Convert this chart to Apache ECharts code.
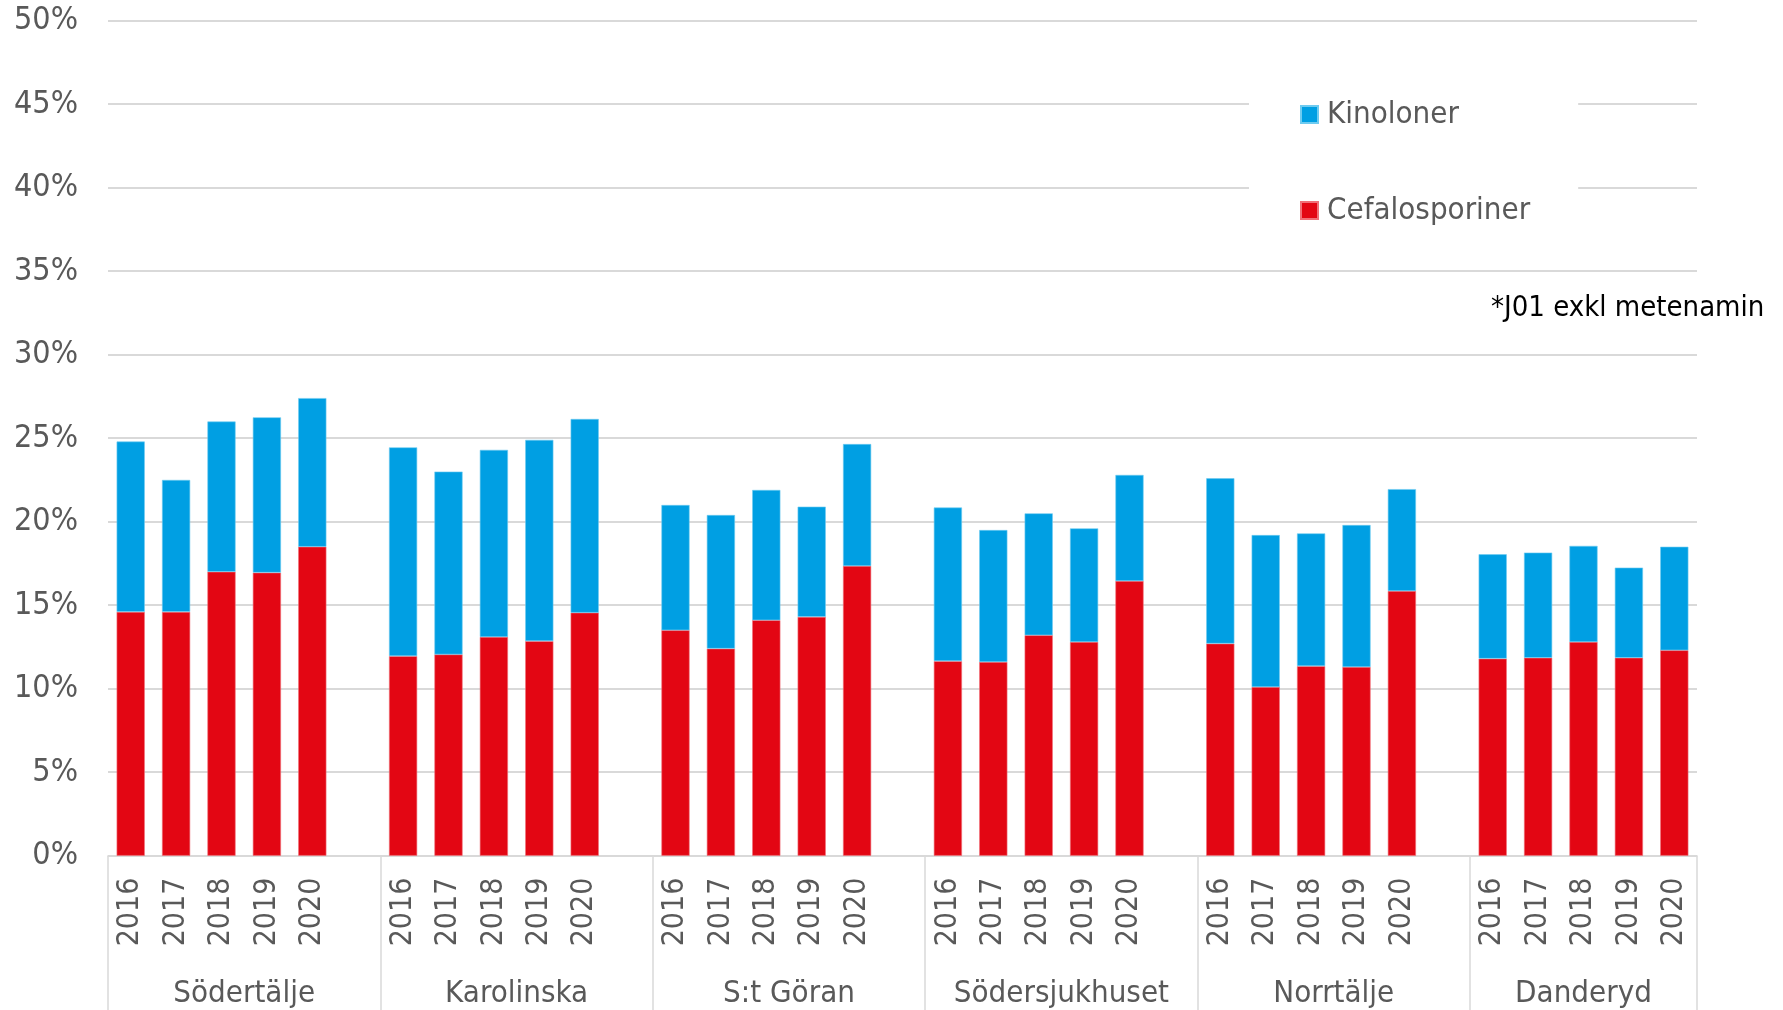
<!DOCTYPE html>
<html>
<head>
<meta charset="utf-8">
<script src="https://cdn.jsdelivr.net/npm/echarts@6/dist/echarts.min.js"></script>
<style>
html,body{margin:0;padding:0;background:#fff;}
#c{width:1783px;height:1010px;}
</style>
</head>
<body>
<div id="c"></div>
<script>
// ---- data ----
const groups = ['Södertälje', 'Karolinska', 'S:t Göran', 'Södersjukhuset', 'Norrtälje', 'Danderyd'];
const years = ['2016', '2017', '2018', '2019', '2020'];
const cefalosporiner = [
  14.6, 14.6, 17.0, 16.95, 18.5,
  11.95, 12.05, 13.1, 12.85, 14.55,
  13.5, 12.4, 14.1, 14.3, 17.35,
  11.65, 11.6, 13.2, 12.8, 16.45,
  12.7, 10.1, 11.35, 11.3, 15.85,
  11.8, 11.85, 12.8, 11.85, 12.3
];
const kinoloner = [
  10.2, 7.9, 9.0, 9.3, 8.9,
  12.5, 10.95, 11.2, 12.05, 11.6,
  7.5, 8.0, 7.8, 6.6, 7.3,
  9.2, 7.9, 7.3, 6.8, 6.35,
  9.9, 9.1, 7.95, 8.5, 6.1,
  6.25, 6.3, 5.75, 5.4, 6.2
];
const yTicks = [0, 5, 10, 15, 20, 25, 30, 35, 40, 45, 50];
const note = '*J01 exkl metenamin';

// ---- build slot layout: each group followed by one empty slot (except last) ----
const cats = [], redData = [], blueData = [];
const boundaries = [0], centers = [];
groups.forEach((g, gi) => {
  const start = cats.length;
  years.forEach((y, yi) => {
    cats.push(y);
    redData.push(cefalosporiner[gi * years.length + yi]);
    blueData.push(kinoloner[gi * years.length + yi]);
  });
  if (gi < groups.length - 1) { cats.push(''); redData.push(null); blueData.push(null); }
  const end = cats.length;
  boundaries.push(end);
  centers.push((start + end) / 2);
});
const nSlots = cats.length;

const FONT = "'DejaVu Sans Condensed', 'DejaVu Sans', sans-serif";
const GREY = '#595959';
const GRID = '#d9d9d9';

const chart = echarts.init(document.getElementById('c'), null, {renderer: 'canvas'});
chart.setOption({
  animation: false,
  backgroundColor: '#fff',
  textStyle: {fontFamily: FONT},
  title: {
    text: note,
    left: 1491, top: 291, padding: 0,
    textStyle: {fontFamily: FONT, fontSize: 29, fontWeight: 'normal', color: '#000', lineHeight: 34}
  },
  legend: {
    data: ['Kinoloner', 'Cefalosporiner'],
    orient: 'vertical',
    left: 1249, top: 39,
    padding: [60, 48, 40, 51],
    backgroundColor: '#fff',
    itemWidth: 17, itemHeight: 17,
    itemGap: 65,
    icon: 'rect',
    textStyle: {fontFamily: FONT, fontSize: 31, color: GREY, lineHeight: 30, padding: [0, 0, 0, 4]}
  },
  grid: {left: 108, right: 86, top: 20.7, bottom: 154.3, containLabel: false},
  xAxis: [
    {
      type: 'category',
      data: cats,
      position: 'bottom',
      axisLine: {show: true, lineStyle: {color: GRID, width: 1.5}},
      axisTick: {show: false},
      axisLabel: {
        interval: 0, rotate: 90, margin: 22,
        fontFamily: FONT, fontSize: 30, color: GREY
      },
      splitLine: {show: false}
    },
    {
      type: 'value',
      min: 0, max: nSlots,
      gridIndex: 0,
      position: 'bottom',
      offset: 0,
      axisLine: {show: false},
      splitLine: {show: false},
      axisTick: {
        show: true, inside: false, length: 160,
        customValues: boundaries,
        lineStyle: {color: GRID, width: 1.5}
      },
      axisLabel: {
        customValues: centers,
        margin: 123,
        fontFamily: FONT, fontSize: 31, color: GREY,
        formatter: function (v) {
          const i = centers.findIndex(c => Math.abs(c - v) < 1e-6);
          return i >= 0 ? groups[i] : '';
        }
      }
    }
  ],
  yAxis: {
    type: 'value',
    min: yTicks[0], max: yTicks[yTicks.length - 1], interval: 5,
    axisLine: {show: false},
    axisTick: {show: false},
    axisLabel: {
      margin: 30, fontFamily: FONT, fontSize: 32, color: GREY,
      formatter: v => v + '%'
    },
    splitLine: {show: true, lineStyle: {color: GRID, width: 2}}
  },
  series: [
    {
      name: 'Cefalosporiner', type: 'bar', stack: 'tot',
      xAxisIndex: 0, yAxisIndex: 0,
      data: redData, barWidth: '62%',
      itemStyle: {color: '#e30613', borderColor: '#f07078', borderWidth: 0.6}
    },
    {
      name: 'Kinoloner', type: 'bar', stack: 'tot',
      xAxisIndex: 0, yAxisIndex: 0,
      data: blueData, barWidth: '62%',
      itemStyle: {color: '#009fe3', borderColor: '#6fcbf0', borderWidth: 0.6}
    }
  ]
});
</script>
</body>
</html>
